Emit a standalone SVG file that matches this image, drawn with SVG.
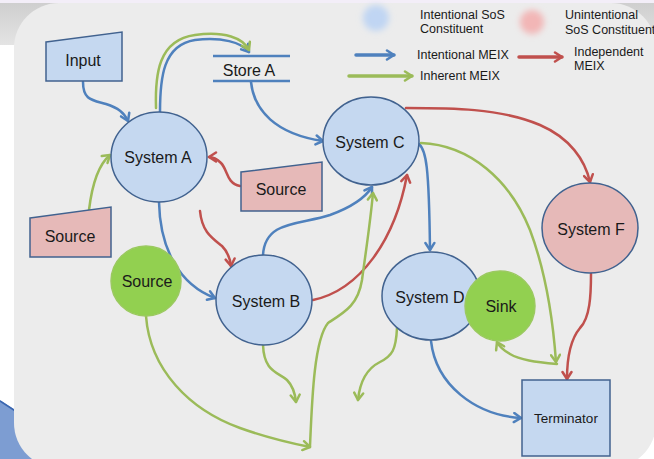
<svg xmlns="http://www.w3.org/2000/svg" width="654" height="459" viewBox="0 0 654 459">
<defs>
<style>
.bg{fill:#ececec}
.nb{fill:#c5d8f0;stroke:#41628f;stroke-width:1.5}
.nr{fill:#e6b9b8;stroke:#41628f;stroke-width:1.5}
.ng{fill:#92d050;stroke:#9bc960;stroke-width:1.5}
.lbl{font-family:"Liberation Sans",Arial,sans-serif;font-size:16px;fill:#1a1a1a;text-anchor:middle;dominant-baseline:central}
.leg{font-family:"Liberation Sans",Arial,sans-serif;font-size:12.5px;fill:#1a1a1a;dominant-baseline:central}
.c{fill:none;stroke-width:2.5;stroke-linecap:round}
.cb{stroke:#4f81bd;marker-end:url(#ab)}
.cr{stroke:#c0504d;marker-end:url(#ar)}
.cg{stroke:#9bbb59;marker-end:url(#ag)}
</style>
<linearGradient id="band" x1="0" y1="0" x2="0" y2="1">
<stop offset="0" stop-color="#cfcfcf"/>
<stop offset="1" stop-color="#e4e4e4"/>
</linearGradient>
<filter id="blur" x="-50%" y="-50%" width="200%" height="200%"><feGaussianBlur stdDeviation="3"/></filter>
<marker id="ab" viewBox="0 0 12 12" refX="10" refY="6" markerWidth="12" markerHeight="12" markerUnits="userSpaceOnUse" orient="auto"><path d="M3,1.5 L10,6 L3,10.5" fill="none" stroke="#4f81bd" stroke-width="2.5" stroke-linecap="round" stroke-linejoin="round"/></marker>
<marker id="ar" viewBox="0 0 12 12" refX="10" refY="6" markerWidth="12" markerHeight="12" markerUnits="userSpaceOnUse" orient="auto"><path d="M3,1.5 L10,6 L3,10.5" fill="none" stroke="#c0504d" stroke-width="2.5" stroke-linecap="round" stroke-linejoin="round"/></marker>
<marker id="ag" viewBox="0 0 12 12" refX="10" refY="6" markerWidth="12" markerHeight="12" markerUnits="userSpaceOnUse" orient="auto"><path d="M3,1.5 L10,6 L3,10.5" fill="none" stroke="#9bbb59" stroke-width="2.5" stroke-linecap="round" stroke-linejoin="round"/></marker>
</defs>

<g id="background">
<rect x="0" y="0" width="654" height="459" fill="#ffffff"/>
<rect x="0" y="0" width="654" height="3" fill="#f3eef8"/>
<rect x="0" y="3" width="654" height="42" fill="url(#band)"/>
<polygon points="0,400 40,426 40,459 0,459" fill="#7d9dd2"/>
<line x1="0" y1="399" x2="40" y2="425" stroke="#ffffff" stroke-width="1.2"/>
<line x1="0" y1="401" x2="40" y2="427" stroke="#3a66b0" stroke-width="1.5"/>
<rect class="bg" x="14" y="3" width="642" height="465" rx="45" ry="45"/>
</g>

<g id="legend">
<circle cx="376" cy="18" r="13" fill="#c0d5f3" filter="url(#blur)"/>
<text class="leg" x="420" y="15">Intentional SoS</text>
<text class="leg" x="420" y="29">Constituent</text>
<circle cx="532" cy="22" r="12" fill="#f2b6b6" filter="url(#blur)"/>
<text class="leg" x="565" y="15">Unintentional</text>
<text class="leg" x="565" y="30">SoS Constituent</text>
<path class="c cb" d="M356,55 L394,55" style="stroke-width:3.5"/>
<text class="leg" x="417" y="55">Intentional MEIX</text>
<path class="c cr" d="M519,57 L562,57" style="stroke-width:3.5"/>
<text class="leg" x="574" y="52">Independent</text>
<text class="leg" x="574" y="66">MEIX</text>
<path class="c cg" d="M349,76 L412,76" style="stroke-width:3.5"/>
<text class="leg" x="420" y="76">Inherent MEIX</text>
</g>

<g id="connectors">
<path class="c cb" d="M83,82 C83,100 92,100 106,104 C118,108 124,112 128,121"/>
<path class="c cb" d="M160,112 C160,78 163,45 195,40 C222,37 241,42 249,52"/>
<path class="c cg" d="M156,108 C155,75 158,40 195,35 C225,31 243,38 249,50"/>
<path class="c cb" d="M251,82 C254,110 275,134 323,141"/>
<path class="c cb" d="M159,202 C160,250 180,285 215,298"/>
<path class="c cb" d="M263,255 C265,220 300,225 330,215 C352,207 365,198 372,187"/>
<path class="c cb" d="M419,144 C426,150 429,165 430,250"/>
<path class="c cb" d="M431,341 C436,385 475,415 521,418"/>
<path class="c cr" d="M240,186 C226,183 228,170 221,163 C217,159 213,157 209,157"/>
<path class="c cr" d="M200,211 C202,232 212,238 222,246 C228,252 230,258 231,266"/>
<path class="c cr" d="M313,300 C360,290 395,240 407,175"/>
<path class="c cr" d="M406,108 C450,108 500,108 540,125 C570,138 585,160 590,182"/>
<path class="c cr" d="M591,274 C591,295 590,318 580,328 C570,340 567,360 567,379"/>
<path class="c cg" d="M89,210 C92,185 98,165 110,155"/>
<path class="c cg" d="M146,316 C150,370 190,410 240,428 C265,437 290,443 310,447"/>
<path class="c cg" d="M310,446 C312,400 314,340 328,323 C345,312 358,305 362,280 C366,250 370,225 373,193"/>
<path class="c cg" d="M263,345 C264,372 278,372 287,380 C293,386 295,393 296,402"/>
<path class="c cg" d="M397,328 C396,350 392,356 380,362 C368,368 360,380 358,400"/>
<path class="c cg" d="M421,143 C470,145 510,180 530,230 C545,270 553,320 556,362"/>
<path class="c cg" d="M557,364 C535,362 520,360 510,354 C503,350 499,346 497,342"/>
</g>

<g id="input"><polygon class="nb" points="46,42 122,32 122,81 46,81"/><text class="lbl" x="83" y="60">Input</text></g>
<g id="store-a"><line x1="213" y1="56" x2="290" y2="56" stroke="#4f81bd" stroke-width="2.5"/><line x1="213" y1="81" x2="290" y2="81" stroke="#4f81bd" stroke-width="2.5"/><text class="lbl" x="249" y="70">Store A</text></g>
<g id="system-a"><ellipse class="nb" cx="159" cy="157" rx="48" ry="45"/><text class="lbl" x="158" y="157">System A</text></g>
<g id="source-right"><polygon class="nr" points="241,172 322,162 322,211 241,211"/><text class="lbl" x="281" y="189">Source</text></g>
<g id="source-left"><polygon class="nr" points="30,218 111,207 111,257 30,257"/><text class="lbl" x="70" y="236">Source</text></g>
<g id="source-green"><circle class="ng" cx="146" cy="281" r="35"/><text class="lbl" x="147" y="281">Source</text></g>
<g id="system-b"><ellipse class="nb" cx="264" cy="300" rx="48" ry="45"/><text class="lbl" x="266" y="301">System B</text></g>
<g id="system-c"><ellipse class="nb" cx="371" cy="141" rx="48" ry="44"/><text class="lbl" x="370" y="142">System C</text></g>
<g id="system-d"><ellipse class="nb" cx="431" cy="296" rx="49" ry="44"/><text class="lbl" x="430" y="297">System D</text></g>
<g id="sink"><circle class="ng" cx="500" cy="306" r="35"/><text class="lbl" x="501" y="306">Sink</text></g>
<g id="system-f"><ellipse class="nr" cx="590" cy="228" rx="48" ry="45"/><text class="lbl" x="591" y="229">System F</text></g>
<g id="terminator"><rect class="nb" x="522" y="380" width="88" height="76"/><text class="lbl" x="566" y="418" style="font-size:13.5px">Terminator</text></g>
</svg>
